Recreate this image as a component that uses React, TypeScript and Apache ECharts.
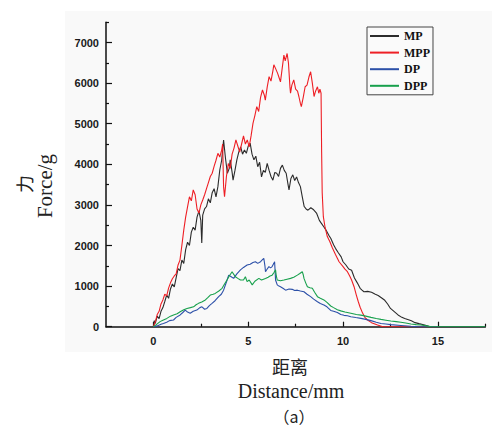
import React, { useEffect, useRef } from "react";
import * as echarts from "echarts";

const seriesNames = ["MP", "MPP", "DP", "DPP"];
const seriesColors = ["#2b2b2b", "#ee1f25", "#2c50a8", "#17a04c"];

const xMajorTicks = [0, 5, 10, 15];
const xMinorTicks = [2.5, 7.5, 12.5, 17.5];
const yMajorTicks = [0, 1000, 2000, 3000, 4000, 5000, 6000, 7000];
const yMinorTicks = [500, 1500, 2500, 3500, 4500, 5500, 6500, 7500];

const mpData: [number, number][] = [
  [0, 0], [0.05, 150], [0.1, 80], [0.2, 260], [0.3, 200], [0.4, 380], [0.5, 470], [0.6, 620],
  [0.7, 780], [0.8, 700], [0.9, 930], [1.0, 1050], [1.1, 980], [1.2, 1210], [1.3, 1430], [1.4, 1380],
  [1.5, 1640], [1.6, 1560], [1.7, 1900], [1.8, 2080], [1.9, 2000], [2.0, 2330], [2.1, 2450], [2.2, 2380],
  [2.3, 2700], [2.4, 2850], [2.5, 2620], [2.55, 2060], [2.6, 2750], [2.7, 2900], [2.8, 2960], [2.9, 3150],
  [3.0, 3050], [3.1, 3300], [3.2, 3400], [3.3, 3200], [3.4, 3450], [3.5, 3860], [3.6, 4100], [3.7, 4600],
  [3.8, 4150], [3.9, 3780], [4.0, 3900], [4.05, 4110], [4.15, 3800], [4.2, 3610], [4.3, 3850], [4.4, 4110],
  [4.5, 4300], [4.6, 4430], [4.7, 4250], [4.8, 4350], [4.9, 4270], [5.0, 4450], [5.1, 4520], [5.2, 4250],
  [5.3, 4110], [5.4, 4200], [5.5, 3940], [5.6, 4050], [5.7, 3690], [5.8, 3850], [5.9, 3800], [6.0, 4020],
  [6.1, 3850], [6.2, 3700], [6.3, 3610], [6.4, 3800], [6.5, 3780], [6.6, 3700], [6.7, 3900], [6.8, 3980],
  [6.9, 3850], [7.0, 3780], [7.1, 3500], [7.15, 3370], [7.25, 3650], [7.35, 3740], [7.45, 3600], [7.55, 3690],
  [7.65, 3550], [7.75, 3450], [7.85, 3200], [7.95, 2960], [8.05, 2900], [8.15, 2870], [8.3, 2930], [8.45, 2880],
  [8.6, 2800], [8.75, 2620], [8.85, 2550], [9.0, 2450], [9.1, 2380], [9.25, 2250], [9.35, 2180], [9.5, 2020],
  [9.6, 1930], [9.75, 1820], [9.9, 1720], [10.0, 1600], [10.15, 1520], [10.3, 1420], [10.45, 1390], [10.6, 1200],
  [10.75, 1080], [10.9, 945], [11.0, 900], [11.1, 860], [11.3, 870], [11.5, 850], [11.7, 800], [11.85, 770],
  [12.0, 720], [12.2, 650], [12.35, 560], [12.5, 450], [12.7, 370], [12.9, 290], [13.1, 230], [13.25, 200],
  [13.45, 170], [13.6, 145], [13.8, 100], [14.0, 75], [14.3, 40], [14.6, 0], [15.0, 0],
];

const mppData: [number, number][] = [
  [0, 0], [0.1, 120], [0.2, 300], [0.3, 380], [0.4, 560], [0.5, 660], [0.6, 800], [0.7, 760],
  [0.8, 950], [0.9, 1080], [1.0, 1180], [1.1, 1250], [1.2, 1300], [1.3, 1520], [1.4, 1640], [1.5, 2000],
  [1.6, 2380], [1.7, 2700], [1.8, 2950], [1.9, 3200], [2.0, 3100], [2.1, 3370], [2.2, 3250], [2.3, 2900],
  [2.4, 2800], [2.5, 3000], [2.6, 3120], [2.7, 3250], [2.8, 3400], [2.9, 3550], [3.0, 3700], [3.1, 3780],
  [3.2, 3950], [3.3, 4100], [3.4, 4270], [3.5, 4180], [3.6, 4350], [3.65, 4500], [3.7, 3450], [3.75, 3200],
  [3.85, 3700], [3.95, 4020], [4.05, 3900], [4.15, 4250], [4.25, 4400], [4.35, 4600], [4.45, 4450], [4.55, 4300],
  [4.65, 4500], [4.75, 4700], [4.85, 4500], [4.95, 4600], [5.05, 4430], [5.15, 4700], [5.25, 5010], [5.35, 5200],
  [5.45, 5420], [5.55, 5300], [5.65, 5650], [5.75, 5830], [5.85, 5700], [5.9, 5580], [6.0, 5900], [6.1, 6160],
  [6.2, 6050], [6.3, 6300], [6.35, 6450], [6.45, 6350], [6.55, 6240], [6.65, 6100], [6.7, 6030], [6.8, 6400],
  [6.88, 6690], [6.95, 6550], [7.05, 6730], [7.12, 6500], [7.2, 5900], [7.23, 5750], [7.3, 5950], [7.4, 6080],
  [7.5, 5850], [7.6, 5800], [7.67, 5670], [7.75, 5500], [7.8, 5420], [7.9, 5650], [8.0, 5910], [8.1, 5950],
  [8.2, 6150], [8.29, 6280], [8.38, 6000], [8.47, 5670], [8.55, 5800], [8.65, 5910], [8.72, 5750], [8.78, 5850],
  [8.84, 5750], [8.87, 4300], [8.9, 3300], [8.96, 2710], [9.05, 2450], [9.17, 2220], [9.3, 2100], [9.44, 1940],
  [9.6, 1780], [9.79, 1600], [10.0, 1480], [10.1, 1420], [10.23, 1355], [10.35, 1250], [10.45, 1150], [10.58, 985],
  [10.7, 780], [10.8, 620], [10.9, 480], [11.03, 335], [11.15, 230], [11.29, 165], [11.5, 100], [11.82, 40],
  [12.1, 0], [15.0, 0],
];

const dpData: [number, number][] = [
  [0, 0], [0.2, 20], [0.4, 60], [0.53, 80], [0.7, 110], [0.85, 150], [1.06, 165], [1.2, 230],
  [1.41, 290], [1.55, 350], [1.68, 410], [1.8, 360], [1.94, 330], [2.1, 380], [2.29, 410], [2.45, 470],
  [2.56, 490], [2.7, 430], [2.82, 450], [2.95, 520], [3.09, 575], [3.25, 640], [3.44, 740], [3.58, 800],
  [3.7, 900], [3.85, 1100], [3.97, 1270], [4.1, 1230], [4.23, 1190], [4.4, 1300], [4.59, 1400], [4.75, 1460],
  [4.94, 1520], [5.1, 1540], [5.25, 1580], [5.38, 1600], [5.5, 1560], [5.65, 1600], [5.75, 1650], [5.82, 1685],
  [5.88, 1500], [5.91, 1355], [6.0, 1420], [6.09, 1480], [6.18, 1450], [6.26, 1480], [6.35, 1560], [6.39, 1600],
  [6.42, 1350], [6.44, 1150], [6.53, 1030], [6.62, 1000], [6.7, 985], [6.85, 940], [6.97, 900], [7.15, 930],
  [7.32, 920], [7.45, 890], [7.59, 900], [7.75, 880], [7.94, 860], [8.1, 800], [8.29, 740], [8.45, 680],
  [8.65, 615], [8.8, 570], [8.99, 535], [9.15, 490], [9.35, 400], [9.5, 380], [9.7, 350], [9.88, 300],
  [10.05, 280], [10.23, 270], [10.41, 245], [10.67, 225], [10.94, 205], [11.2, 180], [11.47, 150], [11.75, 110],
  [12.0, 80], [12.26, 65], [12.52, 50], [13.05, 30], [13.58, 10], [14.0, 0], [15.0, 0],
];

const dppData: [number, number][] = [
  [0, 0], [0.15, 50], [0.35, 125], [0.5, 160], [0.71, 205], [0.9, 260], [1.06, 290], [1.25, 320],
  [1.41, 370], [1.6, 420], [1.77, 450], [1.95, 470], [2.12, 490], [2.25, 540], [2.38, 575], [2.55, 610],
  [2.74, 660], [2.88, 720], [3.0, 780], [3.15, 800], [3.26, 820], [3.45, 880], [3.62, 945], [3.75, 1050],
  [3.88, 1150], [4.0, 1250], [4.15, 1355], [4.22, 1300], [4.32, 1230], [4.45, 1190], [4.59, 1150], [4.75, 1150],
  [4.85, 1230], [4.94, 1110], [5.05, 1150], [5.21, 1030], [5.35, 1120], [5.56, 1190], [5.7, 1150], [5.91, 1190],
  [6.05, 1220], [6.15, 1250], [6.26, 1270], [6.35, 1330], [6.44, 1400], [6.48, 1250], [6.53, 1150], [6.7, 1130],
  [6.88, 1150], [7.05, 1170], [7.23, 1190], [7.4, 1220], [7.59, 1270], [7.72, 1310], [7.85, 1355], [7.9, 1280],
  [7.94, 1190], [8.03, 1080], [8.12, 985], [8.25, 960], [8.38, 945], [8.5, 850], [8.65, 740], [8.8, 700],
  [8.99, 660], [9.15, 600], [9.35, 510], [9.5, 470], [9.7, 420], [9.88, 390], [10.1, 360], [10.41, 330],
  [10.7, 300], [10.94, 285], [11.2, 260], [11.47, 230], [11.75, 200], [12.0, 180], [12.26, 160], [12.52, 140],
  [12.8, 125], [13.05, 110], [13.3, 90], [13.58, 65], [13.85, 50], [14.11, 40], [14.4, 20], [14.64, 0],
  [17.5, 0],
];

const allData = [mpData, mppData, dpData, dppData];

const labelStyle = {
  fontFamily: "'Liberation Sans', Arial, sans-serif",
  fontWeight: "bold" as const,
  fontSize: 11,
  color: "#1a1a1a",
};

export default function App() {
  const ref = useRef<HTMLDivElement>(null);
  useEffect(() => {
    if (!ref.current) return;
    const chart = echarts.init(ref.current, undefined, { renderer: "svg" });
    const option: any = {
      animation: false,
      backgroundColor: "#ffffff",
      grid: { left: 106, right: 6.7, top: 22.2, bottom: 103.3, containLabel: false },
      legend: {
        data: seriesNames,
        orient: "vertical",
        left: 367,
        top: 27,
        padding: [3, 3, 3, 2],
        itemWidth: 29,
        itemHeight: 12,
        itemGap: 4.6,
        borderColor: "#444",
        borderWidth: 1,
        backgroundColor: "#fafafa",
        itemStyle: { opacity: 0 },
        lineStyle: { width: 2, opacity: 1 },
        textStyle: {
          fontFamily: "'Liberation Serif', 'Times New Roman', serif",
          fontWeight: "bold",
          fontSize: 12,
          color: "#111",
        },
      },
      xAxis: [
        {
          type: "value",
          min: -2.5,
          max: 17.5,
          interval: 2.5,
          axisLine: { show: true, onZero: false, lineStyle: { color: "#111", width: 1.5 } },
          axisTick: { show: true, inside: true, length: 5, customValues: xMajorTicks, lineStyle: { color: "#111", width: 1.2 } },
          axisLabel: { show: true, customValues: xMajorTicks, margin: 9, formatter: (v: number) => String(v), ...labelStyle },
          splitLine: { show: false },
        },
        {
          type: "value",
          min: -2.5,
          max: 17.5,
          interval: 2.5,
          position: "bottom",
          offset: 0,
          axisLine: { show: false, onZero: false },
          axisTick: { show: true, inside: true, length: 3, customValues: xMinorTicks, lineStyle: { color: "#111", width: 1.2 } },
          axisLabel: { show: false },
          splitLine: { show: false },
        },
      ],
      yAxis: [
        {
          type: "value",
          min: 0,
          max: 7500,
          interval: 500,
          axisLine: { show: true, onZero: false, lineStyle: { color: "#111", width: 1.5 } },
          axisTick: { show: true, inside: true, length: 6, customValues: yMajorTicks, lineStyle: { color: "#111", width: 1.2 } },
          axisLabel: { show: true, customValues: yMajorTicks, margin: 7, formatter: (v: number) => String(v), ...labelStyle },
          splitLine: { show: false },
        },
        {
          type: "value",
          min: 0,
          max: 7500,
          interval: 500,
          position: "left",
          offset: 0,
          axisLine: { show: false, onZero: false },
          axisTick: { show: true, inside: true, length: 3, customValues: yMinorTicks, lineStyle: { color: "#111", width: 1.2 } },
          axisLabel: { show: false },
          splitLine: { show: false },
        },
      ],
      series: seriesNames.map((name, i) => ({
        name,
        type: "line",
        data: allData[i],
        xAxisIndex: 0,
        yAxisIndex: 0,
        symbol: "none",
        showSymbol: false,
        color: seriesColors[i],
        lineStyle: { color: seriesColors[i], width: 1.1 },
        z: 3 + i,
      })),
      graphic: [
        {
          type: "rect",
          z: -100,
          silent: true,
          shape: { x: 65, y: 11, width: 427, height: 341 },
          style: { fill: "#f9f9f9" },
        },
        {
          type: "text",
          x: 24,
          y: 184,
          rotation: Math.PI / 2,
          style: {
            text: "力",
            fontFamily: "'Noto Sans CJK SC', sans-serif",
            fontSize: 18,
            fill: "#222",
            align: "center",
            verticalAlign: "middle",
          },
        },
        {
          type: "text",
          x: 45,
          y: 186,
          rotation: Math.PI / 2,
          style: {
            text: "Force/g",
            fontFamily: "'Liberation Serif', 'Times New Roman', serif",
            fontSize: 21,
            fill: "#222",
            align: "center",
            verticalAlign: "middle",
          },
        },
        {
          type: "text",
          x: 290,
          y: 366,
          style: {
            text: "距离",
            fontFamily: "'Noto Sans CJK SC', sans-serif",
            fontSize: 18,
            fill: "#222",
            align: "center",
            verticalAlign: "middle",
          },
        },
        {
          type: "text",
          x: 291,
          y: 391,
          style: {
            text: "Distance/mm",
            fontFamily: "'Liberation Serif', 'Times New Roman', serif",
            fontSize: 20,
            fill: "#222",
            align: "center",
            verticalAlign: "middle",
          },
        },
        {
          type: "text",
          x: 294,
          y: 416,
          style: {
            text: "（a）",
            fontFamily: "'Noto Sans CJK SC', sans-serif",
            fontSize: 16,
            fill: "#222",
            align: "center",
            verticalAlign: "middle",
          },
        },
      ],
    };
    chart.setOption(option);
    return () => chart.dispose();
  }, []);
  return <div ref={ref} style={{ width: 492, height: 430, position: "absolute", left: 0, top: 0 }} />;
}
